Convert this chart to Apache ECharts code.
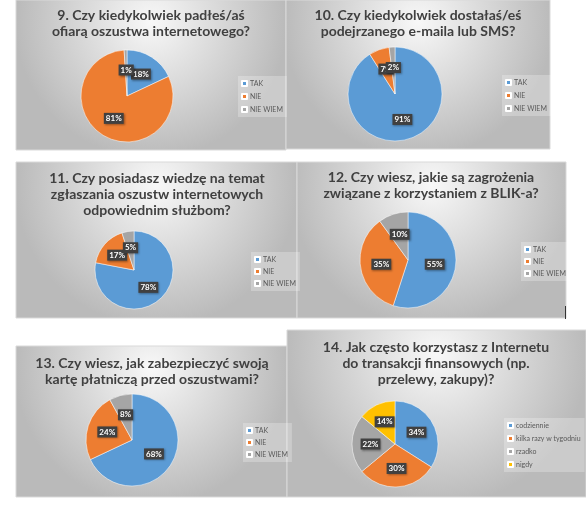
<!DOCTYPE html>
<html>
<head>
<meta charset="utf-8">
<script src="https://cdn.jsdelivr.net/npm/echarts@6/dist/echarts.min.js"></script>
<style>
  html, body { margin: 0; padding: 0; background: #fff; }
  #chart { width: 586px; height: 519px; }
</style>
</head>
<body>
<div id="chart"></div>
<script>
"use strict";

// odpowiedzi
var answersYesNo = ['TAK', 'NIE', 'NIE WIEM'];
var answersFreq = ['codziennie', 'kilka razy w tygodniu', 'rzadko', 'nigdy'];

// wartości (%)
var q9 = [18, 81, 1];
var q10 = [91, 7, 2];
var q11 = [78, 17, 5];
var q12 = [55, 35, 10];
var q13 = [68, 24, 8];
var q14 = [34, 30, 22, 14];

var titles = [
    '9. Czy kiedykolwiek padłeś/aś\nofiarą oszustwa internetowego?',
    '10. Czy kiedykolwiek dostałaś/eś\npodejrzanego e-maila lub SMS?',
    '11. Czy posiadasz wiedzę na temat\nzgłaszania oszustw internetowych\nodpowiednim służbom?',
    '12. Czy wiesz, jakie są zagrożenia\nzwiązane z korzystaniem z BLIK-a?',
    '13. Czy wiesz, jak zabezpieczyć swoją\nkartę płatniczą przed oszustwami?',
    '14. Jak często korzystasz z Internetu\ndo transakcji finansowych (np.\nprzelewy, zakupy)?'
];

var palette = ['#5B9BD5', '#ED7D31', '#A5A5A5', '#FFC000'];

// układ paneli (px)
var panels = [
    { box: [16, 0, 270, 150], title: [151, 7], pie: [127, 96, 46], legend: [238, 76, 6] },
    { box: [286, 0, 264, 149], title: [418, 7], pie: [395, 94, 47], legend: [502, 75, 6] },
    { box: [16, 162, 281, 156], title: [157, 170], pie: [134, 270, 39], legend: [251, 252, 5] },
    { box: [297, 162, 269, 156], title: [431, 169], pie: [408, 260, 48], legend: [521, 242, 5] },
    { box: [16, 346, 271, 151], title: [152, 355], pie: [132, 440, 46], legend: [243, 423, 5] },
    { box: [287, 330, 299, 167], title: [436, 339], pie: [395, 444, 43], legend: [504, 418, 6] }
];

var allValues = [q9, q10, q11, q12, q13, q14];
var allNames = [answersYesNo, answersYesNo, answersYesNo, answersYesNo, answersYesNo, answersFreq];

var myChart = echarts.init(document.getElementById('chart'), null, { renderer: 'canvas' });

var graphics = [], titleOpts = [], legendOpts = [], series = [];

panels.forEach(function (p, i) {
    graphics.push({
        type: 'rect',
        z: -10,
        shape: { x: p.box[0], y: p.box[1], width: p.box[2], height: p.box[3] },
        style: {
            fill: new echarts.graphic.RadialGradient(0.5, 0.15, 0.9, [
                { offset: 0, color: '#f8f8f8' },
                { offset: 1, color: '#bababa' }
            ]),
            stroke: '#d9d9d9',
            lineWidth: 1
        }
    });

    titleOpts.push({
        text: titles[i],
        left: p.title[0],
        top: p.title[1],
        textAlign: 'center',
        padding: 0,
        textStyle: {
            fontFamily: 'Lato',
            fontWeight: 'bold',
            fontSize: 14,
            lineHeight: 16,
            color: '#404040'
        }
    });

    legendOpts.push({
        data: allNames[i],
        orient: 'vertical',
        left: p.legend[0],
        top: p.legend[1],
        itemWidth: 5,
        itemHeight: 5,
        itemGap: p.legend[2],
        icon: 'rect',
        padding: [4, 4, 4, 3],
        backgroundColor: 'rgba(255,255,255,0.25)',
        selectedMode: false,
        textStyle: { fontFamily: 'Lato', fontSize: 7, color: '#595959', padding: [0, 0, 0, -2] }
    });

    series.push({
        name: 'pytanie' + (i + 9),
        type: 'pie',
        center: [p.pie[0], p.pie[1]],
        radius: p.pie[2],
        startAngle: 90,
        clockwise: true,
        silent: true,
        animation: false,
        avoidLabelOverlap: false,
        minShowLabelAngle: 0,
        labelLayout: { hideOverlap: false },
        itemStyle: { borderColor: '#ffffff', borderWidth: 0.5 },
        label: {
            show: true,
            position: 'inside',
            formatter: '{c}%',
            fontFamily: 'Lato',
            fontWeight: 'bold',
            fontSize: 8,
            color: '#ffffff',
            backgroundColor: '#404040',
            padding: [2, 2, 1, 2],
            shadowColor: 'rgba(0,0,0,0.35)',
            shadowBlur: 2,
            shadowOffsetX: 1,
            shadowOffsetY: 1
        },
        labelLine: { show: false },
        data: allValues[i].map(function (v, k) {
            return { value: v, name: allNames[i][k], itemStyle: { color: palette[k] } };
        })
    });
});

// ciemna kreska przy prawym dolnym rogu panelu 12
graphics.push({
    type: 'line',
    shape: { x1: 565.5, y1: 306, x2: 565.5, y2: 319 },
    style: { stroke: '#333', lineWidth: 1 }
});

myChart.setOption({
    animation: false,
    color: palette,
    graphic: graphics,
    title: titleOpts,
    legend: legendOpts,
    series: series
});
</script>
</body>
</html>
